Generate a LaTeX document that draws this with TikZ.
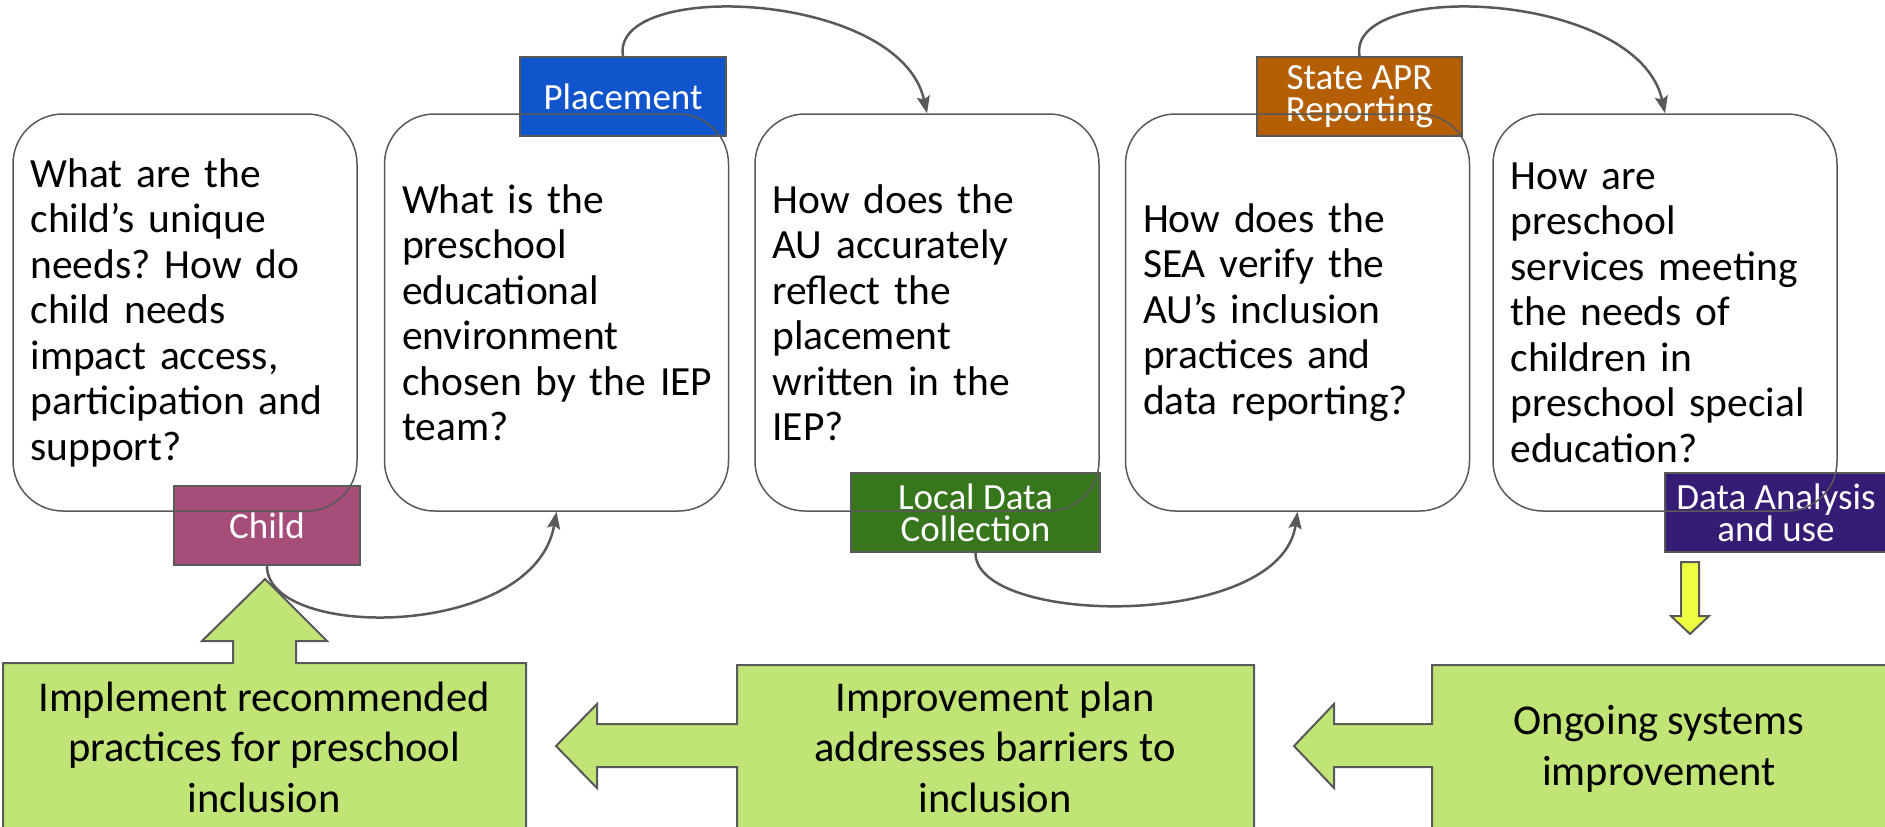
\documentclass[tikz,border=0pt]{standalone}
\usepackage{fontspec}
\setmainfont{Carlito}
\usepackage{tikz}
\usetikzlibrary{arrows.meta}
\frenchspacing

\definecolor{edgegray}{HTML}{595959}
\definecolor{childcol}{HTML}{A64D79}
\definecolor{placecol}{HTML}{1155CC}
\definecolor{localcol}{HTML}{38761D}
\definecolor{statecol}{HTML}{B45F06}
\definecolor{analysiscol}{HTML}{351C75}
\definecolor{stepgreen}{RGB}{193,228,118}
\definecolor{pointyellow}{HTML}{EEFF41}

\begin{document}
\begin{tikzpicture}[x=1pt, y=-1pt,
    question/.style={draw=edgegray, line width=1.5pt, rounded corners=50pt,
      minimum width=344pt, minimum height=397pt, text width=309pt, align=left,
      font=\fontsize{41.5}{45.5}\selectfont},
    labelbox/.style={draw=edgegray, line width=2pt, text=white, align=center,
      minimum height=79pt, inner sep=0pt, font=\fontsize{37}{32}\selectfont},
    cycleflow/.style={draw=edgegray, line width=2.5pt,
      -{Stealth[length=17pt, width=13pt, inset=3pt]}},
    block/.style={fill=stepgreen, draw=edgegray, line width=2pt},
    steptext/.style={align=center, font=\fontsize{42.5}{50.5}\selectfont}]
    \useasboundingbox (0,0) rectangle (1885,827);
    \clip (0,0) rectangle (1885,827);

    % coloured tags sit under the question boxes
    \node[labelbox, fill=childcol, minimum width=186pt] at (267, 525.5) (Child) {Child};
    \node[labelbox, fill=placecol, minimum width=206pt] at (623, 96.5) (Place) {Placement};
    \node[labelbox, fill=localcol, minimum width=249pt] at (975.5, 512.5) (Local) {Local Data\\Collection};
    \node[labelbox, fill=statecol, minimum width=205pt] at (1359.5, 96.5) (State) {State APR\\Reporting};
    \node[labelbox, fill=analysiscol, minimum width=222pt] at (1776, 512.5) (Analysis) {Data Analysis\\and use};

    \node[question] at (185, 312.5) (Q1) {What are the\\child’s unique\\needs? How do\\child needs\\impact access,\\participation and\\support?};
    \node[question] at (556.5, 312.5) (Q2) {What is the\\preschool\\educational\\environment\\chosen~by~the~IEP\\team?};
    \node[question] at (927, 312.5) (Q3) {How does the\\AU accurately\\reflect the\\placement\\written in the\\IEP?};
    \node[question] at (1297.5, 312.5) (Q4) {How does the\\SEA verify the\\AU’s inclusion\\practices and\\data reporting?};
    \node[question] at (1665, 312.5) (Q5) {How are\\preschool\\services meeting\\the needs of\\children in\\preschool special\\education?};

    \draw[cycleflow] (Child.south) .. controls +(0,75) and +(-22,128) .. (Q2.south);
    \draw[cycleflow] (Place.north) .. controls +(-13,-77) and +(-27,-123) .. (Q3.north);
    \draw[cycleflow] (Local.south) .. controls +(0,73) and +(-17,119) .. (Q4.south);
    \draw[cycleflow] (State.north) .. controls +(-13,-77) and +(-27,-123) .. (Q5.north);

    % improvement steps
    \draw[fill=pointyellow, draw=edgegray, line width=2pt]
      (1681,562) -- (1699,562) -- (1699,616) -- (1709,616) -- (1690,634)
      -- (1671,616) -- (1681,616) -- cycle;
    \draw[block] (1432,840) -- (1432,767) -- (1334,767) -- (1334,788) -- (1294,746)
      -- (1334,704) -- (1334,724) -- (1432,724) -- (1432,665) -- (1895,665) -- (1895,840);
    \draw[block] (737,840) -- (737,767) -- (597,767) -- (597,788) -- (556,746)
      -- (597,704) -- (597,724) -- (737,724) -- (737,665) -- (1254,665) -- (1254,840);
    \draw[block] (3,840) -- (3,663) -- (233,663) -- (233,641) -- (202,641) -- (265,579)
      -- (327,641) -- (296,641) -- (296,663) -- (526,663) -- (526,840);
    \node[steptext] at (1659, 749) (Ongoing) {Ongoing systems\\improvement};
    \node[steptext] at (995, 747) (Plan) {Improvement plan\\addresses barriers to\\inclusion};
    \node[steptext] at (264, 747) (Impl) {Implement recommended\\practices for preschool\\inclusion};
\end{tikzpicture}
\end{document}
